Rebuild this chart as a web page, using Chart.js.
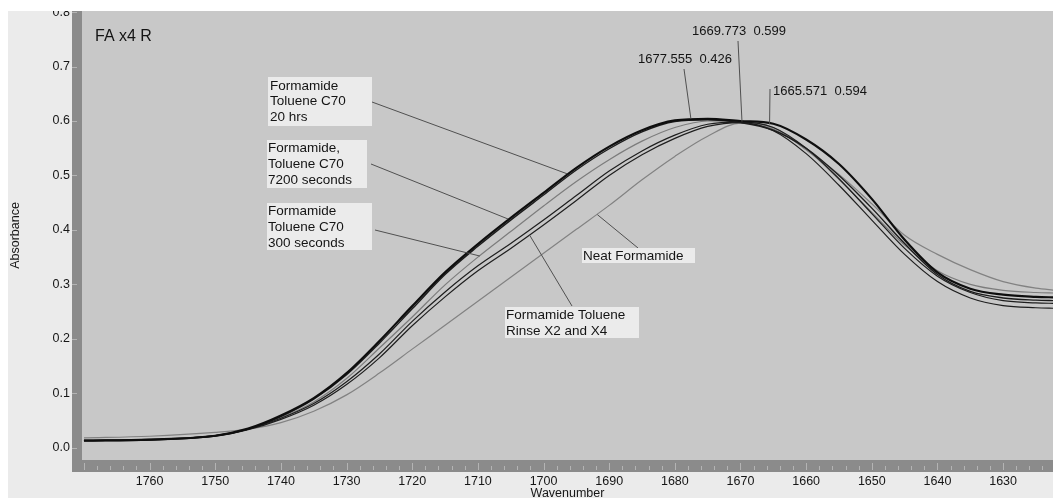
<!DOCTYPE html>
<html>
<head>
<meta charset="utf-8">
<script src="https://cdn.jsdelivr.net/npm/chart.js@4"></script>
<style>
  html, body { margin: 0; padding: 0; background: #fff; }
</style>
</head>
<body>
<canvas id="spectrum" width="1053" height="499"></canvas>
<script>
// wavenumbers (cm-1) the curves were read at
const wavenumbers = [1770, 1760, 1750, 1745, 1740, 1735, 1730, 1725, 1720, 1715, 1710, 1705, 1700, 1695, 1690, 1685, 1680, 1675, 1670, 1665, 1660, 1655, 1650, 1645, 1640, 1635, 1630, 1625, 1622];

const toluene20h    = [0.013, 0.015, 0.022, 0.035, 0.059, 0.091, 0.137, 0.196, 0.260, 0.322, 0.374, 0.422, 0.468, 0.514, 0.553, 0.583, 0.601, 0.604, 0.600, 0.595, 0.566, 0.521, 0.457, 0.382, 0.322, 0.292, 0.281, 0.277, 0.276];
const toluene7200s  = [0.013, 0.015, 0.022, 0.034, 0.057, 0.089, 0.134, 0.192, 0.255, 0.318, 0.370, 0.418, 0.464, 0.510, 0.549, 0.580, 0.599, 0.602, 0.597, 0.583, 0.550, 0.500, 0.440, 0.375, 0.318, 0.287, 0.275, 0.271, 0.270];
const toluene300s   = [0.013, 0.015, 0.022, 0.034, 0.055, 0.084, 0.127, 0.183, 0.240, 0.299, 0.350, 0.397, 0.444, 0.489, 0.529, 0.563, 0.588, 0.600, 0.598, 0.585, 0.548, 0.493, 0.432, 0.372, 0.325, 0.300, 0.289, 0.285, 0.284];
const rinseX2       = [0.013, 0.014, 0.021, 0.033, 0.052, 0.078, 0.116, 0.165, 0.224, 0.277, 0.325, 0.366, 0.409, 0.454, 0.500, 0.538, 0.568, 0.590, 0.597, 0.582, 0.540, 0.482, 0.418, 0.355, 0.305, 0.275, 0.261, 0.257, 0.256];
const rinseX4       = [0.014, 0.015, 0.022, 0.034, 0.054, 0.081, 0.121, 0.172, 0.232, 0.286, 0.334, 0.375, 0.418, 0.463, 0.508, 0.545, 0.574, 0.594, 0.598, 0.588, 0.550, 0.494, 0.430, 0.366, 0.315, 0.285, 0.270, 0.266, 0.265];
const neatFormamide = [0.018, 0.021, 0.028, 0.034, 0.046, 0.067, 0.097, 0.137, 0.181, 0.225, 0.269, 0.313, 0.357, 0.401, 0.445, 0.492, 0.535, 0.572, 0.596, 0.588, 0.547, 0.502, 0.448, 0.390, 0.355, 0.327, 0.305, 0.293, 0.289];

const xTicks = [1760, 1750, 1740, 1730, 1720, 1710, 1700, 1690, 1680, 1670, 1660, 1650, 1640, 1630];
const yTicks = [0.0, 0.1, 0.2, 0.3, 0.4, 0.5, 0.6, 0.7, 0.8];

// peak markers: [wavenumber, absorbance on curve], text shown
const peakPoints = [[1677.555, 0.604], [1669.773, 0.599], [1665.571, 0.594]];
const peakTexts = ['1677.555  0.426', '1669.773  0.599', '1665.571  0.594'];

// where each callout's leader touches its curve
const calloutPoints = [[1696.4, 0.503], [1705.4, 0.420], [1709.7, 0.352], [1702.1, 0.390], [1691.8, 0.428]];
const calloutTexts = [
    ['Formamide', 'Toluene C70', '20 hrs'],
    ['Formamide,', 'Toluene C70', '7200 seconds'],
    ['Formamide', 'Toluene C70', '300 seconds'],
    ['Formamide Toluene', 'Rinse X2 and X4'],
    ['Neat Formamide']
];

function pts(values) {
    return wavenumbers.map((w, i) => ({ x: w, y: values[i] }));
}

const FONT = '"Liberation Sans", Arial, sans-serif';

// box geometry of the callouts (page pixels)
const calloutBoxes = [
    { box: [268, 77, 104, 49], from: [372, 102], textX: 270, lineY: [86, 101.5, 117] },
    { box: [267, 140, 100, 48], from: [371, 164], textX: 268, lineY: [148, 164, 180.5] },
    { box: [267, 203, 105, 47], from: [375, 230], textX: 268, lineY: [211, 227, 243] },
    { box: [505, 307, 134, 31], from: [572, 306], textX: 506, lineY: [315, 331] },
    { box: [582, 248, 113, 15], from: [638, 248], textX: 583, lineY: [256] }
];
const peakLayout = [
    { textX: 638, textY: 59, from: [684, 69] },
    { textX: 692, textY: 31, from: [738, 41] },
    { textX: 773, textY: 91, from: [770, 89] }
];

const framePlugin = {
    id: 'frame',
    beforeDraw(chart) {
        const { ctx, chartArea: a, width, height } = chart;
        ctx.save();
        ctx.fillStyle = '#ffffff';
        ctx.fillRect(0, 0, width, height);
        ctx.fillStyle = '#ebebeb';
        ctx.fillRect(8, 11, width - 8, height - 12);
        ctx.fillStyle = '#8b8b8b';
        ctx.fillRect(a.left - 10, a.top, 10, a.bottom - a.top + 12);
        ctx.fillRect(a.left - 10, a.bottom, width - a.left + 10, 12);
        ctx.fillStyle = '#c8c8c8';
        ctx.fillRect(a.left, a.top, a.right - a.left, a.bottom - a.top);
        ctx.restore();
    },
    afterDraw(chart) {
        const { ctx, chartArea: a, width } = chart;
        const xs = chart.scales.x, ys = chart.scales.y;
        ctx.save();

        // tick marks in the dark bands
        ctx.strokeStyle = '#b4b4b4';
        ctx.lineWidth = 1;
        ctx.beginPath();
        for (let w = 1624; w <= 1770; w += 2) {
            const px = Math.round(xs.getPixelForValue(w)) + 0.5;
            if (px < a.left || px > a.right) continue;
            const major = w % 10 === 0;
            ctx.moveTo(px, a.bottom + (major ? 3 : 6));
            ctx.lineTo(px, a.bottom + 10);
        }
        yTicks.forEach(v => {
            const py = Math.round(ys.getPixelForValue(v)) + 0.5;
            ctx.moveTo(a.left - 10, py);
            ctx.lineTo(a.left - 5, py);
        });
        ctx.stroke();

        // leader lines
        ctx.strokeStyle = '#505050';
        ctx.beginPath();
        calloutBoxes.forEach((c, i) => {
            ctx.moveTo(c.from[0], c.from[1]);
            ctx.lineTo(xs.getPixelForValue(calloutPoints[i][0]), ys.getPixelForValue(calloutPoints[i][1]));
        });
        peakLayout.forEach((p, i) => {
            ctx.moveTo(p.from[0], p.from[1]);
            ctx.lineTo(xs.getPixelForValue(peakPoints[i][0]), ys.getPixelForValue(peakPoints[i][1]));
        });
        ctx.stroke();

        // callout boxes
        ctx.font = '13.5px ' + FONT;
        ctx.textBaseline = 'middle';
        ctx.textAlign = 'left';
        calloutBoxes.forEach((c, i) => {
            ctx.fillStyle = '#ebebeb';
            ctx.fillRect(c.box[0], c.box[1], c.box[2], c.box[3]);
            ctx.fillStyle = '#141414';
            calloutTexts[i].forEach((t, j) => ctx.fillText(t, c.textX, c.lineY[j]));
        });

        // peak labels
        ctx.font = '13px ' + FONT;
        peakLayout.forEach((p, i) => {
            ctx.fillText(peakTexts[i], p.textX, p.textY);
        });

        ctx.font = '16px ' + FONT;
        ctx.fillText('FA x4 R', 95, 37);

        // white margin strips of the screenshot
        ctx.fillStyle = '#ffffff';
        ctx.fillRect(0, 0, width, 11);
        ctx.fillRect(0, 0, 8, chart.height);
        ctx.restore();
    }
};

function line(label, values, color, width) {
    return {
        label,
        data: pts(values),
        borderColor: color,
        borderWidth: width,
        pointRadius: 0,
        fill: false,
        cubicInterpolationMode: 'monotone'
    };
}

new Chart(document.getElementById('spectrum'), {
    type: 'line',
    data: {
        datasets: [
            line('Formamide Toluene C70 20 hrs', toluene20h, '#0e0e0e', 2.2),
            line('Formamide, Toluene C70 7200 seconds', toluene7200s, '#1c1c1c', 1.4),
            line('Rinse X2', rinseX2, '#1e1e1e', 1.2),
            line('Rinse X4', rinseX4, '#1e1e1e', 1.2),
            line('Formamide Toluene C70 300 seconds', toluene300s, '#7c7c7c', 1.2),
            line('Neat Formamide', neatFormamide, '#828282', 1.2)
        ]
    },
    options: {
        responsive: false,
        animation: false,
        devicePixelRatio: 1,
        layout: { padding: { top: 11, right: 0, bottom: 0, left: 0 } },
        plugins: { legend: { display: false }, tooltip: { enabled: false } },
        scales: {
            x: {
                type: 'linear',
                reverse: true,
                min: 1622.4,
                max: 1770.3,
                grid: { display: false, drawTicks: false },
                border: { display: false },
                afterBuildTicks: s => { s.ticks = xTicks.map(v => ({ value: v })); },
                afterFit: s => { s.height = 39; s.paddingLeft = 0; s.paddingRight = 0; s.paddingTop = 0; s.paddingBottom = 0; },
                ticks: {
                    padding: 14,
                    color: '#161616',
                    font: { family: FONT, size: 12.5 },
                    maxRotation: 0,
                    autoSkip: false,
                    callback: v => String(v)
                },
                title: {
                    display: true,
                    text: 'Wavenumber',
                    color: '#161616',
                    font: { family: FONT, size: 12.5, lineHeight: 1 },
                    padding: { top: 0, bottom: -1 }
                }
            },
            y: {
                min: -0.0226,
                max: 0.802,
                grid: { display: false, drawTicks: false },
                border: { display: false },
                afterBuildTicks: s => { s.ticks = yTicks.map(v => ({ value: v })); },
                afterFit: s => { s.width = 82; s.paddingLeft = 0; s.paddingRight = 0; s.paddingTop = 0; s.paddingBottom = 0; },
                ticks: {
                    padding: 12,
                    color: '#161616',
                    font: { family: FONT, size: 12.5 },
                    autoSkip: false,
                    callback: v => v.toFixed(1)
                },
                title: {
                    display: true,
                    text: 'Absorbance',
                    color: '#161616',
                    font: { family: FONT, size: 12.5, lineHeight: 1 },
                    padding: { top: 9, bottom: 0 }
                }
            }
        }
    },
    plugins: [framePlugin]
});
</script>
</body>
</html>
